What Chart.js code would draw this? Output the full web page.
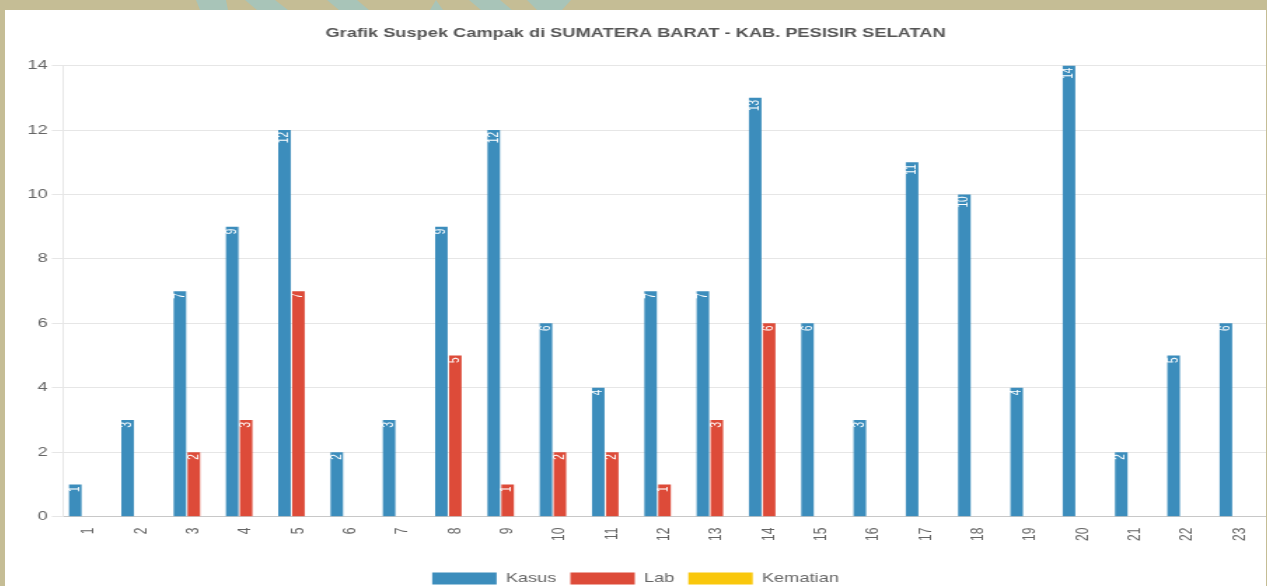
<!DOCTYPE html>
<html>
<head>
<meta charset="utf-8">
<script src="https://cdn.jsdelivr.net/npm/chart.js@4/dist/chart.umd.min.js"></script>
<style>
  html, body { margin: 0; padding: 0; }
  body { width: 1267px; height: 586px; overflow: hidden; background: #c5bd95; position: relative; }
  #stripes { position: absolute; left: 0; top: 0; }
  #panel { position: absolute; left: 5px; top: 10px; width: 1261px; height: 600px; background: #fff; overflow: hidden; }
  /* the chart is drawn narrow and stretched sideways, like the original */
  #wrap { position: relative; width: 900px; height: 588px; transform: scaleX(1.4011); transform-origin: 0 0; }
</style>
</head>
<body>
<!-- teal stripes on the beige top band -->
<svg id="stripes" width="1267" height="10">
  <polygon points="196,0 226,0 228,10 200,10" fill="#a8c4b8"/>
  <polygon points="245,0 275,0 288,10 257,10" fill="#a8c4b8"/>
  <polygon points="327,0 357,0 369,10 339,10" fill="#a8c4b8"/>
  <polygon points="436,0 430,10 443,10" fill="#a8c4b8"/>
  <polygon points="469,0 500,0 512,10 481,10" fill="#a8c4b8"/>
  <polygon points="527,0 571,0 562,10 537,10" fill="#a8c4b8"/>
</svg>
<div id="panel">
  <div id="wrap"><canvas id="myChart"></canvas></div>
</div>
<script>
// data
const labels = ['1','2','3','4','5','6','7','8','9','10','11','12','13','14','15','16','17','18','19','20','21','22','23'];
const kasus = [1, 3, 7, 9, 12, 2, 3, 9, 12, 6, 4, 7, 7, 13, 6, 3, 11, 10, 4, 14, 2, 5, 6];
const lab = [0, 0, 2, 3, 7, 0, 0, 5, 1, 2, 2, 1, 3, 6, 0, 0, 0, 0, 0, 0, 0, 0, 0];
const kematian = [0, 0, 0, 0, 0, 0, 0, 0, 0, 0, 0, 0, 0, 0, 0, 0, 0, 0, 0, 0, 0, 0, 0];
const yTicks = [0, 2, 4, 6, 8, 10, 12, 14];

const colorKasus = '#3c8dbc';
const colorLab = '#dd4b39';
const colorKematian = '#f9c70c';

Chart.defaults.font.family = '"Liberation Sans", Arial, sans-serif';
Chart.defaults.color = '#666';

// value label inside top of each bar, rotated
const barValues = {
    id: 'barValues',
    afterDatasetsDraw(chart) {
        const ctx = chart.ctx;
        chart.data.datasets.forEach((ds, i) => {
            const meta = chart.getDatasetMeta(i);
            meta.data.forEach((bar, j) => {
                const v = ds.data[j];
                if (!v) return;
                ctx.save();
                ctx.translate(bar.x, bar.y + 2);
                ctx.rotate(-Math.PI / 2);
                ctx.fillStyle = '#fff';
                ctx.font = '10px "Liberation Sans", Arial, sans-serif';
                ctx.textAlign = 'right';
                ctx.textBaseline = 'middle';
                ctx.fillText(String(v), 0, 0);
                ctx.restore();
            });
        });
    }
};

var ctx = document.getElementById('myChart');
var chart = new Chart(ctx, {
    type: 'bar',
    data: {
        labels: labels,
        datasets: [{
            label: 'Kasus',
            backgroundColor: colorKasus,
            data: kasus
        }, {
            label: 'Lab',
            backgroundColor: colorLab,
            data: lab
        }, {
            label: 'Kematian',
            backgroundColor: colorKematian,
            data: kematian
        }]
    },
    options: {
        responsive: true,
        maintainAspectRatio: false,
        animation: false,
        layout: { padding: { left: 0, right: 0, top: 0, bottom: 3 } },
        plugins: {
            title: {
                display: true,
                text: 'Grafik Suspek Campak di SUMATERA BARAT - KAB. PESISIR SELATAN',
                font: { size: 13, weight: 'bold' },
                color: '#555',
                padding: { top: 16, bottom: 24 }
            },
            legend: {
                position: 'bottom',
                labels: { boxWidth: 46, boxHeight: 12, font: { size: 13 }, padding: 10 }
            },
            tooltip: { enabled: false }
        },
        scales: {
            x: {
                grid: { display: false },
                border: { color: '#c8c8c8' },
                ticks: { minRotation: 90, maxRotation: 90, font: { size: 12 } },
                afterFit: (axis) => { axis.height += 18; }
            },
            y: {
                min: 0,
                max: 14,
                afterBuildTicks: (axis) => { axis.ticks = yTicks.map(v => ({ value: v })); },
                grid: { color: '#e6e6e6', tickLength: 8 },
                border: { color: '#e6e6e6' },
                ticks: { font: { size: 13 } },
                afterFit: (axis) => { axis.width += 13; }
            }
        }
    },
    plugins: [barValues]
});
</script>
</body>
</html>
